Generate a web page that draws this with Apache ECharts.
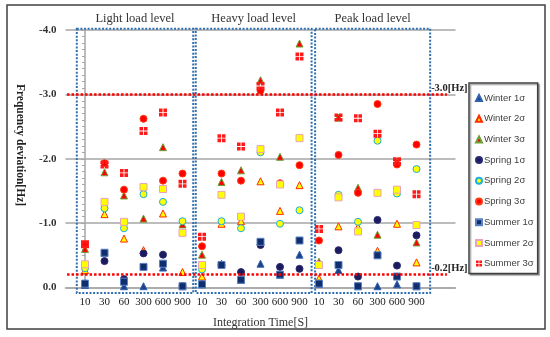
<!DOCTYPE html>
<html>
<head>
<meta charset="utf-8">
<script src="https://cdn.jsdelivr.net/npm/echarts@6/dist/echarts.min.js"></script>
<style>html,body{margin:0;padding:0;background:#fff}#c{width:550px;height:337px}</style>
</head>
<body>
<div id="c"></div>
<script>
// ---- data ----
var panels = ['Light load level', 'Heavy load level', 'Peak load level'];
var timeLabels = ['10', '30', '60', '300', '600', '900',
                  '10', '30', '60', '300', '600', '900',
                  '10', '30', '60', '300', '600', '900'];
var seriesNames = ['Winter 1σ', 'Winter 2σ', 'Winter 3σ', 'Spring 1σ', 'Spring 2σ', 'Spring 3σ', 'Summer 1σ', 'Summer 2σ', 'Summer 3σ'];
var winter1 = [-0.04, -0.54, -0.02, -0.02, -0.31, -0.02,  -0.05, -0.37, -0.12, -0.37, -0.20, -0.51,  -0.06, -0.27, -0.02, -0.02, -0.05, -0.02];
var winter2 = [-0.27, -1.14, -0.76, -0.58, -1.15, -0.24,  -0.17, -0.99, -1.03, -1.65, -1.19, -1.59,  -0.14, -0.95, -0.94, -0.57, -0.99, -0.39];
var winter3 = [-0.60, -1.79, -1.43, -1.07, -2.18, -0.98,  -0.51, -1.64, -1.82, -3.22, -2.03, -3.79,  -0.40, -2.64, -1.55, -0.82, -1.96, -0.70];
var spring1 = [-0.06, -0.41, -0.13, -0.53, -0.51, -0.02,  -0.05, -0.35, -0.24, -0.66, -0.32, -0.29,  -0.06, -0.58, -0.17, -1.05, -0.34, -0.81];
var spring2 = [-0.30, -1.23, -0.92, -1.45, -1.33, -1.03,  -0.28, -1.03, -0.92, -2.10, -0.99, -1.20,  -0.35, -1.44, -1.02, -2.28, -1.46, -1.84];
var spring3 = [-0.67, -1.93, -1.52, -2.62, -1.66, -1.77,  -0.64, -1.77, -1.66, -3.06, -1.62, -1.90,  -0.73, -2.06, -1.47, -2.85, -1.91, -2.22];
var summer1 = [-0.06, -0.54, -0.09, -0.32, -0.37, -0.02,  -0.05, -0.35, -0.12, -0.71, -0.20, -0.73,  -0.06, -0.35, -0.02, -0.50, -0.17, -0.02];
var summer2 = [-0.36, -1.33, -1.02, -1.56, -1.53, -0.85,  -0.35, -1.44, -1.10, -2.15, -1.60, -2.32,  -0.35, -1.40, -0.87, -1.47, -1.52, -0.97];
var summer3 = [-0.67, -1.91, -1.78, -2.43, -2.72, -1.61,  -0.79, -2.32, -2.19, -3.13, -2.72, -3.59,  -0.91, -2.64, -2.63, -2.39, -1.96, -1.45];
var yTicks = [-4, -3, -2, -1, 0];
var limits = [-3.0, -0.2];
var limitLabels = ['-3.0[Hz]', '-0.2[Hz]'];

var allValues = [winter1, winter2, winter3, spring1, spring2, spring3, summer1, summer2, summer3];

// ---- styles ----
var styles = [
  {symbol: 'triangle', color: '#1f3f86', border: '#2e62b0'},
  {symbol: 'triangle', color: '#ffff00', border: '#ff2a00'},
  {symbol: 'triangle', color: '#ff0000', border: '#6aa33a'},
  {symbol: 'circle', color: '#1b1b5e', border: '#2a2a70'},
  {symbol: 'circle', color: '#ffff00', border: '#19aee6'},
  {symbol: 'circle', color: '#ff0000', border: '#ff3a10'},
  {symbol: 'rect', color: '#102d6c', border: '#5a82c4'},
  {symbol: 'rect', color: '#ffff00', border: '#e9a3b8'},
  {symbol: 'path://M0,0H4V4H0Z M5,0H9V4H5Z M0,5H4V9H0Z M5,5H9V9H5Z', color: '#ff1a1a', border: null}
];

var serif = 'Liberation Serif';
var chart = echarts.init(document.getElementById('c'), null, {renderer: 'canvas'});

var series = seriesNames.map(function (name, k) {
  var st = styles[k];
  return {
    name: name,
    type: 'scatter',
    z: 3,
    symbol: st.symbol,
    symbolSize: k === 8 ? 8 : 7,
    itemStyle: {color: st.color, borderColor: st.border || st.color, borderWidth: st.border ? 1 : 0, opacity: 1},
    data: allValues[k].map(function (v, i) { return [i, v]; })
  };
});

// red limit lines
series[0].markLine = {
  silent: true,
  symbol: 'none',
  animation: false,
  label: {show: false},
  lineStyle: {color: '#ff0000', type: [2.5, 2], width: 2.5},
  data: limits.map(function (v) { return [{coord: [-0.92, v]}, {coord: [18.56, v]}]; })
};

// panel boxes (dotted frames around each load level)
var boxSpans = [[-0.42, 5.55], [5.68, 11.62], [11.8, 17.7]];
series.push({
  type: 'custom',
  name: 'boxes',
  z: 1,
  silent: true,
  clip: false,
  data: panels.map(function (p, i) { return [i]; }),
  renderItem: function (params, api) {
    var p = api.value(0);
    var tl = api.coord([boxSpans[p][0], -4.02]);
    var br = api.coord([boxSpans[p][1], 0.085]);
    return {
      type: 'rect',
      shape: {x: tl[0], y: tl[1], width: br[0] - tl[0], height: br[1] - tl[1]},
      style: {fill: null, stroke: '#2f6fb2', lineWidth: 2, lineDash: [2, 1.6]}
    };
  }
});

chart.setOption({
  animation: false,
  backgroundColor: '#fff',
  grid: {left: 65.5, right: 94.5, top: 30, bottom: 49.5, containLabel: false, outerBoundsMode: 'none'},
  legend: {
    data: seriesNames,
    orient: 'vertical',
    left: 469,
    top: 83,
    itemWidth: 6,
    itemHeight: 6,
    itemGap: 10.7,
    padding: [10, 4, 5, 6],
    borderColor: '#404040',
    borderWidth: 1.5,
    backgroundColor: '#fff',
    shadowColor: 'rgba(0,0,0,0.35)',
    shadowOffsetX: 1.5,
    shadowOffsetY: 1.5,
    shadowBlur: 1,
    selectedMode: false,
    textStyle: {fontFamily: 'Liberation Sans', fontSize: 9.5, lineHeight: 10, color: '#404040', padding: [0, 0, 0, -3]}
  },
  xAxis: {
    type: 'value',
    min: -1,
    max: 19,
    interval: 1,
    name: 'Integration Time[S]',
    nameLocation: 'middle',
    nameGap: 29,
    nameTextStyle: {fontFamily: serif, fontSize: 12, color: '#333'},
    axisLine: {show: true, onZero: false, lineStyle: {color: '#a6a6a6', width: 1.5}},
    axisTick: {show: false},
    splitLine: {show: false},
    axisLabel: {
      margin: 9,
      fontFamily: serif,
      fontSize: 11,
      color: '#222',
      showMinLabel: true,
      showMaxLabel: true,
      formatter: function (v) {
        return (v >= 0 && v < timeLabels.length && Math.round(v) === v) ? timeLabels[v] : '';
      }
    }
  },
  yAxis: {
    type: 'value',
    inverse: true,
    min: yTicks[0],
    max: yTicks[yTicks.length - 1],
    interval: 1,
    axisLine: {show: true, lineStyle: {color: '#a6a6a6', width: 1.5}},
    axisTick: {show: true, length: 4, lineStyle: {color: '#a6a6a6', width: 1}},
    minorTick: {show: true, splitNumber: 10, length: 3, lineStyle: {color: '#a6a6a6', width: 1}},
    splitLine: {show: true, lineStyle: {color: '#a6a6a6', width: 1.5}},
    axisLabel: {
      margin: 9,
      fontFamily: serif,
      fontWeight: 'bold',
      fontSize: 11,
      color: '#333',
      formatter: function (v) { return v.toFixed(1); }
    }
  },
  series: series
});

// text decorations positioned through the axes
var graphics = [];
graphics.push({
  type: 'rect', silent: true, z: 0,
  shape: {x: 7, y: 5, width: 538, height: 324},
  style: {fill: null, stroke: '#404040', lineWidth: 1.5}
});
panels.forEach(function (name, i) {
  var a = chart.convertToPixel({gridIndex: 0}, [boxSpans[i][0], -4]);
  var b = chart.convertToPixel({gridIndex: 0}, [boxSpans[i][1], -4]);
  graphics.push({
    type: 'text', silent: true, x: (a[0] + b[0]) / 2, y: 19,
    style: {text: name, fontFamily: serif, fontSize: 12.5, fill: '#333', align: 'center', verticalAlign: 'middle'}
  });
});
limits.forEach(function (v, i) {
  var p = chart.convertToPixel({gridIndex: 0}, [17.75, v]);
  graphics.push({
    type: 'text', silent: true, x: p[0], y: p[1] - 1,
    style: {text: limitLabels[i], fontFamily: serif, fontWeight: 'bold', fontSize: 10.5, fill: '#222', align: 'left', verticalAlign: 'bottom'}
  });
});
graphics.push({
  type: 'text', silent: true, x: 20, y: 145, rotation: -Math.PI / 2,
  style: {text: 'Frequency deviation[Hz]', fontFamily: serif, fontWeight: 'bold', fontSize: 11.5, fill: '#222', align: 'center', verticalAlign: 'middle'}
});
chart.setOption({graphic: graphics});
</script>
</body>
</html>
